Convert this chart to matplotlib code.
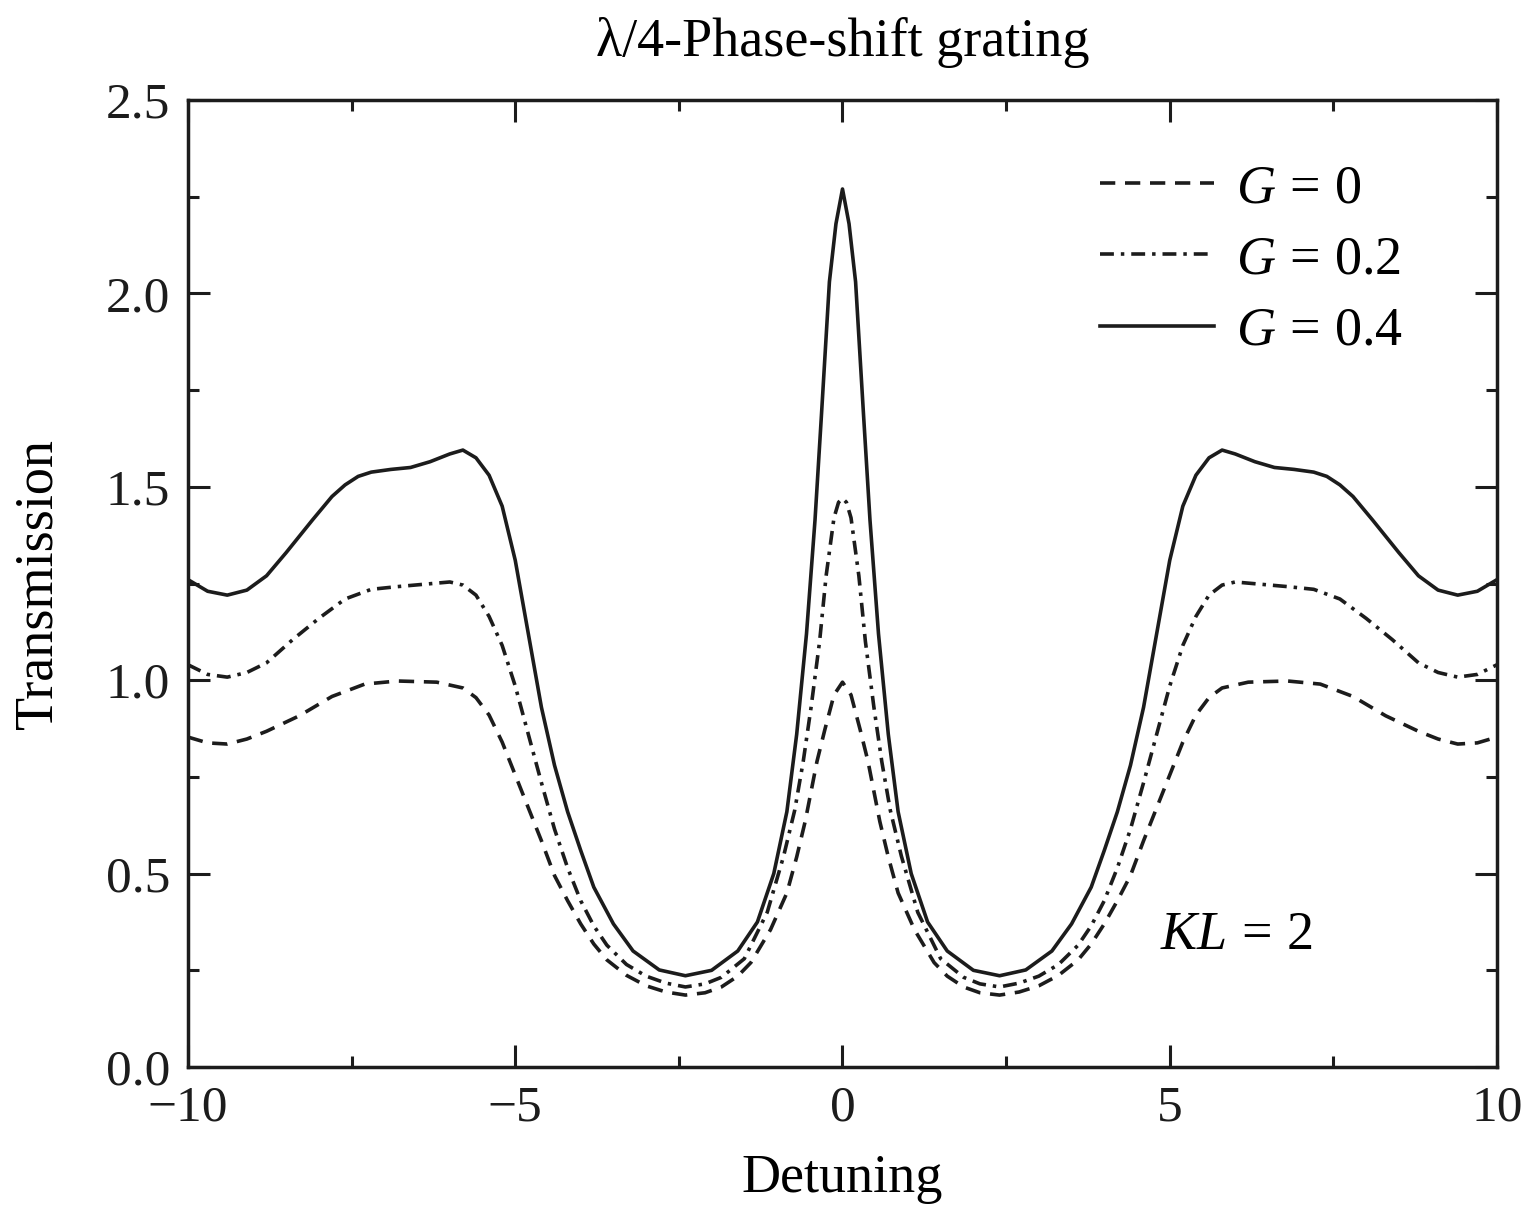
# transmission of a lambda/4 phase-shifted grating for three gain values

import matplotlib
matplotlib.use("Agg")
import matplotlib.pyplot as plt
from matplotlib.ticker import MultipleLocator

# values (detuning, transmission)
X_G0 = [-10.0, -9.7, -9.4, -9.1, -8.8, -8.3, -7.8, -7.3, -6.8, -6.2,
        -5.8, -5.6, -5.4, -5.2, -5.0, -4.8, -4.6, -4.4, -4.2, -4.0,
        -3.8, -3.6, -3.3, -3.0, -2.7, -2.4, -2.1, -1.85, -1.6, -1.4,
        -1.1, -0.85, -0.7, -0.57, -0.39, -0.27, -0.13, 0.0,
        0.13, 0.27, 0.39, 0.57, 0.7, 0.85, 1.1, 1.4, 1.6, 1.85,
        2.1, 2.4, 2.7, 3.0, 3.3, 3.6, 3.8, 4.0, 4.2, 4.4,
        4.6, 4.8, 5.0, 5.2, 5.4, 5.6, 5.8, 6.2, 6.8, 7.3,
        7.8, 8.3, 8.8, 9.1, 9.4, 9.7, 10.0]
T_G0 = [0.853, 0.838, 0.835, 0.848, 0.868, 0.908, 0.958, 0.99, 0.998, 0.995,
        0.98, 0.955, 0.91, 0.84, 0.755, 0.67, 0.585, 0.495, 0.43, 0.37,
        0.318, 0.277, 0.237, 0.21, 0.194, 0.186, 0.192, 0.207, 0.235, 0.27,
        0.355, 0.45, 0.543, 0.635, 0.79, 0.872, 0.962, 0.995,
        0.962, 0.872, 0.79, 0.635, 0.543, 0.45, 0.355, 0.27, 0.235, 0.207,
        0.192, 0.186, 0.194, 0.21, 0.237, 0.277, 0.318, 0.37, 0.43, 0.495,
        0.585, 0.67, 0.755, 0.84, 0.91, 0.955, 0.98, 0.995, 0.998, 0.99,
        0.958, 0.908, 0.868, 0.848, 0.835, 0.838, 0.853]

X_G02 = [-10.0, -9.7, -9.4, -9.1, -8.8, -8.4, -8.0, -7.6, -7.2, -6.8,
         -6.4, -6.0, -5.8, -5.6, -5.4, -5.2, -5.0, -4.8, -4.6, -4.4,
         -4.2, -4.0, -3.8, -3.6, -3.3, -3.0, -2.7, -2.4, -2.1, -1.85,
         -1.5, -1.15, -0.9, -0.73, -0.6, -0.48, -0.35, -0.25, -0.13, -0.06, 0.0,
         0.06, 0.13, 0.25, 0.35, 0.48, 0.6, 0.73, 0.9, 1.15, 1.5, 1.85,
         2.1, 2.4, 2.7, 3.0, 3.3, 3.6, 3.8, 4.0, 4.2, 4.4,
         4.6, 4.8, 5.0, 5.2, 5.4, 5.6, 5.8, 6.0, 6.4, 6.8,
         7.2, 7.6, 8.0, 8.4, 8.8, 9.1, 9.4, 9.7, 10.0]
T_G02 = [1.04, 1.015, 1.008, 1.02, 1.045, 1.105, 1.16, 1.21, 1.235, 1.242,
         1.248, 1.254, 1.246, 1.22, 1.165, 1.09, 0.985, 0.86, 0.735, 0.615,
         0.515, 0.43, 0.365, 0.315, 0.265, 0.235, 0.217, 0.207, 0.215, 0.232,
         0.28, 0.40, 0.545, 0.664, 0.79, 0.93, 1.10, 1.27, 1.42, 1.46, 1.47,
         1.46, 1.42, 1.27, 1.10, 0.93, 0.79, 0.664, 0.545, 0.40, 0.28, 0.232,
         0.215, 0.207, 0.217, 0.235, 0.265, 0.315, 0.365, 0.43, 0.515, 0.615,
         0.735, 0.86, 0.985, 1.09, 1.165, 1.22, 1.246, 1.254, 1.248, 1.242,
         1.235, 1.21, 1.16, 1.105, 1.045, 1.02, 1.008, 1.015, 1.04]

X_G04 = [-10.0, -9.7, -9.4, -9.1, -8.8, -8.5, -8.1, -7.8, -7.6, -7.4, -7.2,
         -6.9, -6.6, -6.3, -6.0, -5.8, -5.6, -5.4, -5.2, -5.0, -4.8,
         -4.6, -4.4, -4.2, -4.0, -3.8, -3.5, -3.2, -2.8, -2.4, -2.0,
         -1.6, -1.3, -1.05, -0.85, -0.7, -0.55, -0.42, -0.32, -0.2, -0.1, 0.0,
         0.1, 0.2, 0.32, 0.42, 0.55, 0.7, 0.85, 1.05, 1.3, 1.6,
         2.0, 2.4, 2.8, 3.2, 3.5, 3.8, 4.0, 4.2, 4.4, 4.6,
         4.8, 5.0, 5.2, 5.4, 5.6, 5.8, 6.0, 6.3, 6.6, 6.9,
         7.2, 7.4, 7.6, 7.8, 8.1, 8.5, 8.8, 9.1, 9.4, 9.7, 10.0]
T_G04 = [1.26, 1.23, 1.22, 1.233, 1.27, 1.33, 1.414, 1.475, 1.505, 1.527, 1.538,
         1.545, 1.55, 1.565, 1.585, 1.595, 1.575, 1.53, 1.45, 1.31, 1.12,
         0.93, 0.78, 0.66, 0.56, 0.465, 0.37, 0.30, 0.251, 0.236, 0.25,
         0.30, 0.375, 0.50, 0.66, 0.86, 1.12, 1.414, 1.69, 2.03, 2.18, 2.27,
         2.18, 2.03, 1.69, 1.414, 1.12, 0.86, 0.66, 0.50, 0.375, 0.30,
         0.25, 0.236, 0.251, 0.30, 0.37, 0.465, 0.56, 0.66, 0.78, 0.93,
         1.12, 1.31, 1.45, 1.53, 1.575, 1.595, 1.585, 1.565, 1.55, 1.545,
         1.538, 1.527, 1.505, 1.475, 1.414, 1.33, 1.27, 1.233, 1.22, 1.23, 1.26]

LABELS = [r"$G\,=\,0$", r"$G\,=\,0.2$", r"$G\,=\,0.4$"]

LINE_COLOR = "#1c1c1c"
FONT_SIZE = 39
TICK_SIZE = 37

plt.rcParams["font.family"] = ["Liberation Serif", "DejaVu Serif"]
plt.rcParams["mathtext.fontset"] = "custom"
plt.rcParams["mathtext.rm"] = "Liberation Serif"
plt.rcParams["mathtext.it"] = "Liberation Serif:italic"
plt.rcParams["lines.scale_dashes"] = False

fig = plt.figure(figsize=(15.36, 12.08), dpi=100)
ax = fig.add_axes([0.1224, 0.1167, 0.8522, 0.8005])

# the three curves, dashed / dash-dot / solid
ax.plot(X_G0, T_G0, color=LINE_COLOR, lw=2.6, linestyle=(0, (11, 7)), label=LABELS[0])
ax.plot(X_G02, T_G02, color=LINE_COLOR, lw=2.6, linestyle=(0, (10, 5, 2.5, 5)), label=LABELS[1])
ax.plot(X_G04, T_G04, color=LINE_COLOR, lw=2.6, linestyle="-", label=LABELS[2])

ax.set_xlim(-10, 10)
ax.set_ylim(0, 2.5)
ax.xaxis.set_major_locator(MultipleLocator(5))
ax.xaxis.set_minor_locator(MultipleLocator(2.5))
ax.yaxis.set_major_locator(MultipleLocator(0.5))
ax.yaxis.set_minor_locator(MultipleLocator(0.25))
ax.yaxis.set_major_formatter(matplotlib.ticker.FormatStrFormatter("%.1f"))

ax.tick_params(which="both", direction="in", top=True, right=True, colors=LINE_COLOR)
ax.tick_params(which="major", length=16, width=2.2, labelsize=TICK_SIZE, pad=13)
ax.tick_params(which="minor", length=8, width=2.2)
for spine in ax.spines.values():
    spine.set_linewidth(2.5)
    spine.set_edgecolor(LINE_COLOR)

ax.set_title("\u03bb/4-Phase-shift grating", fontsize=FONT_SIZE, pad=32)
ax.set_xlabel("Detuning", fontsize=FONT_SIZE, labelpad=16)
ax.set_ylabel("Transmission", fontsize=FONT_SIZE, labelpad=30)

ax.text(4.85, 0.34, r"$KL\,=\,2$", fontsize=FONT_SIZE, va="center", ha="left")

leg = ax.legend(loc="upper left", bbox_to_anchor=(0.697, 0.934), frameon=False,
                fontsize=FONT_SIZE, handlelength=2.1, handletextpad=0.4,
                labelspacing=0.38, borderpad=0, borderaxespad=0)

fig.savefig("out.png", dpi=100)
plt.close(fig)
